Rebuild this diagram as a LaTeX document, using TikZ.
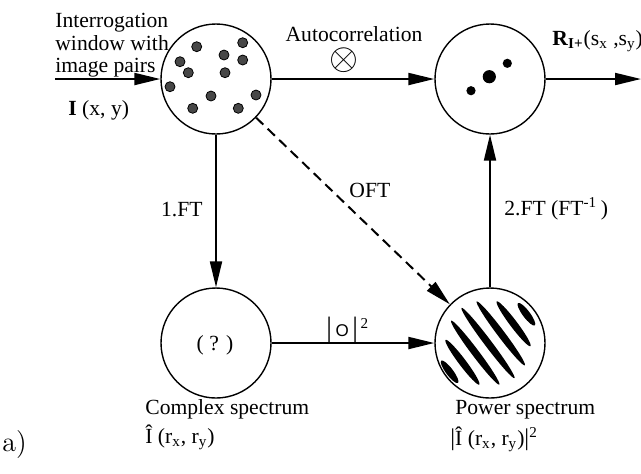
\documentclass[tikz,border=0pt]{standalone}
\usepackage{fontspec}
\newfontfamily\tms{Liberation Serif}
\newfontfamily\hel{Liberation Sans}
\usetikzlibrary{arrows.meta}
\begin{document}
\begin{tikzpicture}[x=0.5pt,y=-0.5pt,
  circ/.style={draw, circle, line width=0.7pt, minimum size=55pt, inner sep=0pt},
  arr/.style={line width=1pt, -{Triangle[length=13pt,width=6pt]}},
  lbl/.style={font=\tms\fontsize{10.8}{11.25}\selectfont, inner sep=0pt},
  pdot/.style={fill=black!72, draw=black, line width=0.4pt},
  sdot/.style={fill=black},
  stripe/.style={fill=black},
]
\useasboundingbox (0,0) rectangle (641,473);
% circles
\node[circ] (c1) at (216,79) {};
\node[circ] (c2) at (490,79) {};
\node[circ] (c3) at (216,343) {};
\node[circ] (c4) at (490,343) {};
% particle images
\foreach \p in {(196.7,46.7),(242.7,42.7),(224,55),(242.7,60),(180,61.7),(188.3,72.7),(225,72.7),(170,86.7),(211,96),(256,95),(192.7,108.3),(238.3,108.3)}
  \filldraw[pdot] \p circle[radius=2.5pt];
% correlation peaks
\fill[sdot] (489.3,76.7) circle[radius=3.3pt];
\fill[sdot] (507.3,63.3) circle[radius=2.3pt];
\fill[sdot] (471,90.7) circle[radius=2.3pt];
% power spectrum stripes
\foreach \k/\L in {-3/7,-2/14,-1/20,0/22,1/20,2/14,3/7}
  \fill[stripe, shift={(488+12.8*\k,343-9.6*\k)}, rotate=-53] (0,0) ellipse[x radius=\L pt, y radius=1.8pt];
% connectors
\coordinate (in) at (55,79);
\coordinate (out) at (641,79);
\draw[arr] (in) -- (c1);
\draw[arr] (c1) -- (c2);
\draw[arr] (c2) -- (out);
\draw[arr] (c1) -- (c3);
\draw[arr] (c3) -- (c4);
\draw[arr] (c4) -- (c2);
\draw[arr, dash pattern=on 5pt off 3pt] (c1) -- (c4);
% labels
\node[lbl, align=left, anchor=north west] (t1) at (55,13) {Interrogation\\window with\\image pairs};
\node[lbl, anchor=base west] (t2) at (68,115) {\textbf{I} (x, y)};
\node[lbl, align=center, anchor=north] (t3) at (354,26) {Autocorrelation\\[3pt]\hspace*{-10pt}\scalebox{1.7}{$\otimes$}};
\node[lbl, anchor=base west] (t5) at (552,45) {\textbf{R}\textsubscript{\textbf{I+}}(s\textsubscript{x} ,s\textsubscript{y})};
\node[lbl, anchor=base east] (t6) at (203,216) {1.FT};
\node[lbl, anchor=base west] (t7) at (349,197) {OFT};
\node[lbl, anchor=base west] (t8) at (504,215) {2.FT (FT\textsuperscript{-1}\,)};
\node[lbl, anchor=base west] (t9) at (326,336) {{\fontsize{14}{14}\selectfont|}\,{\hel\fontsize{8.5}{8.5}\selectfont O}\,{\fontsize{14}{14}\selectfont|}\textsuperscript{\,2}};
\node[lbl] (t10) at (215,345) {( ? )};
\node[lbl, anchor=base west] (t11) at (145,414) {Complex spectrum};
\node[lbl, anchor=base west] (t12) at (145,443) {\^{I} (r\textsubscript{x}, r\textsubscript{y})};
\node[lbl, anchor=base west] (t13) at (455,414) {Power spectrum};
\node[lbl, anchor=base west] (t14) at (450,445) {{\fontsize{12}{12}\selectfont|}\^{I} (r\textsubscript{x}, r\textsubscript{y}){\fontsize{12}{12}\selectfont|}\textsuperscript{2}};
\node[anchor=base west, inner sep=0pt, font=\fontsize{14}{14}\selectfont] (t15) at (2,451) {a)};
\end{tikzpicture}
\end{document}
